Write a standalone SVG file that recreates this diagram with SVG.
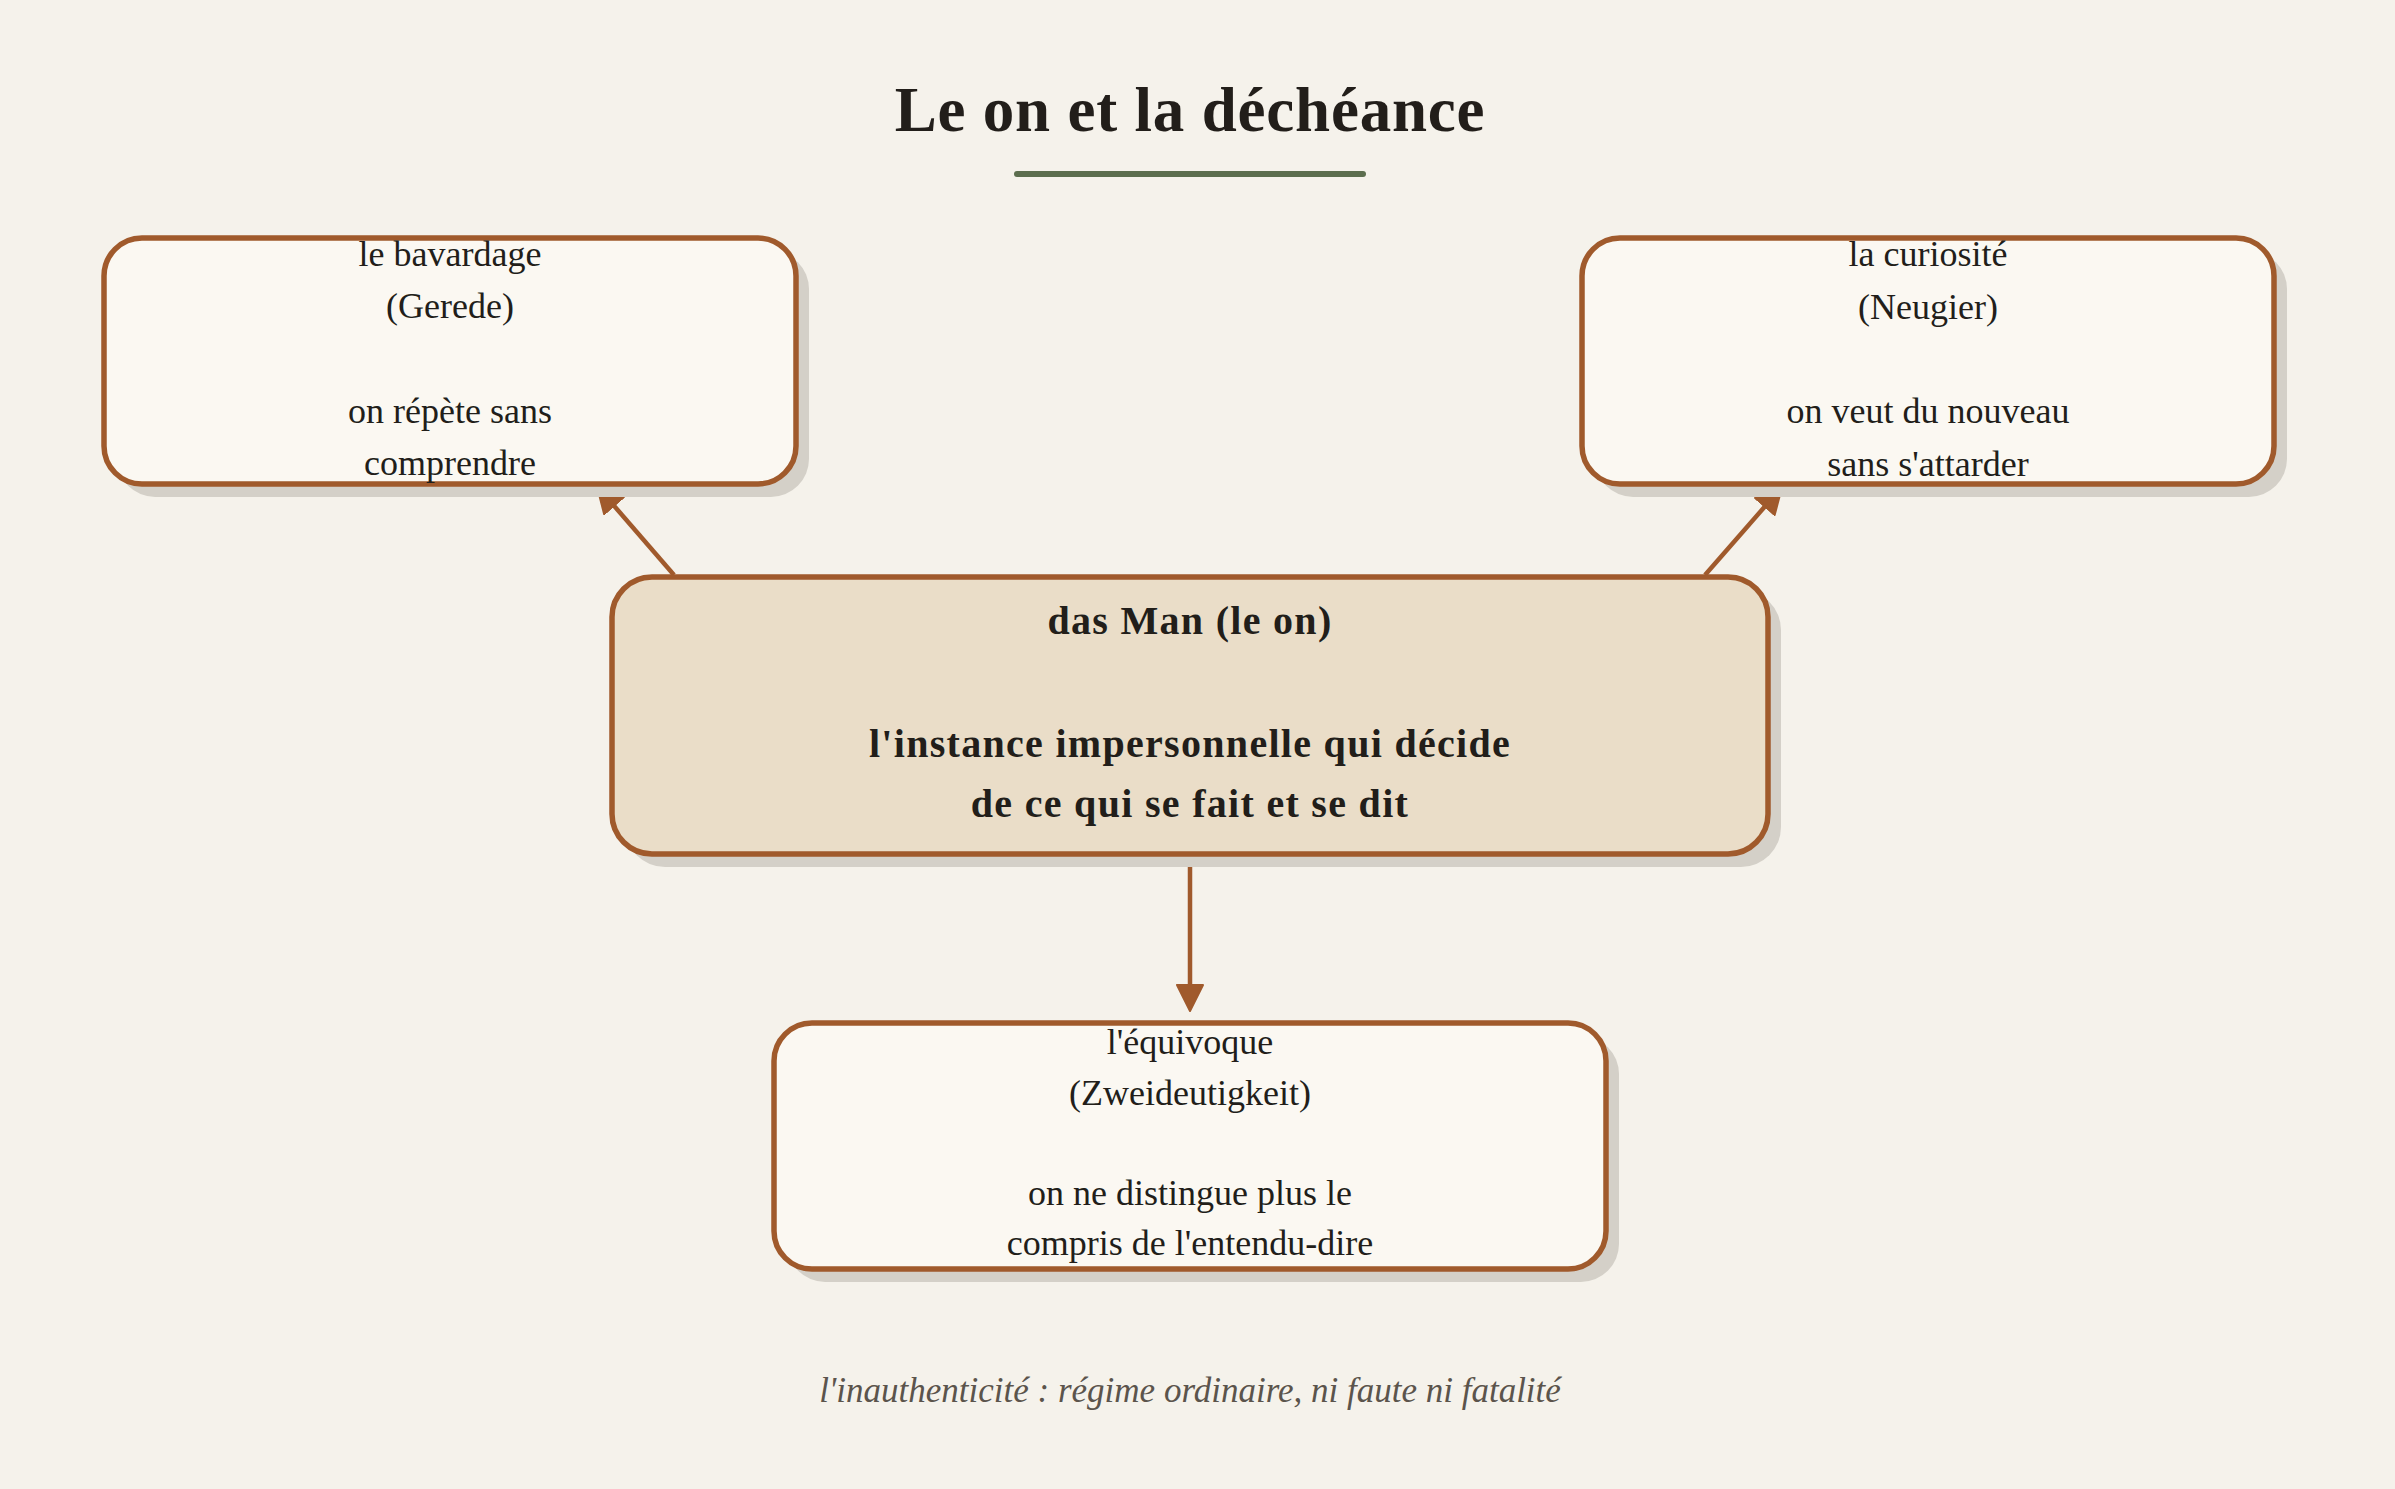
<svg xmlns="http://www.w3.org/2000/svg" width="2395" height="1489" viewBox="0 0 2395 1489">
  <style>
    .bg { fill: #f5f2eb; }
    .shadow { fill: #d4d0c8; }
    .box { fill: #fbf8f2; stroke: #a05a2c; stroke-width: 5.5; }
    .core { fill: #eaddc8; stroke: #a05a2c; stroke-width: 5.5; }
    .t { font-family: "Liberation Serif", "Times New Roman", serif; font-size: 36px; fill: #221e1a; text-anchor: middle; }
    .tb { font-family: "Liberation Serif", "Times New Roman", serif; font-size: 40px; font-weight: bold; letter-spacing: 1.3px; fill: #221e1a; text-anchor: middle; }
    .title { font-family: "Liberation Serif", "Times New Roman", serif; font-size: 63px; font-weight: bold; letter-spacing: 0.8px; fill: #221e1a; text-anchor: middle; }
    .foot { font-family: "Liberation Serif", "Times New Roman", serif; font-size: 35px; font-style: italic; fill: #5b544c; text-anchor: middle; }
    .edge { stroke: #a05a2c; stroke-width: 4.5; fill: none; marker-end: url(#arrow); }
  </style>
  <defs>
    <marker id="arrow" markerUnits="userSpaceOnUse" markerWidth="30" markerHeight="30" viewBox="0 0 30 30" refX="17" refY="14" orient="auto">
      <path d="M1,1 L27,14 L1,27 z" fill="#a05a2c" stroke="#a05a2c" stroke-width="2" stroke-linejoin="round"/>
    </marker>
  </defs>
  <rect class="bg" x="0" y="0" width="2395" height="1489"/>

  <g id="title">
    <text class="title" x="1190" y="131">Le on et la déchéance</text>
    <line x1="1017" y1="174" x2="1363" y2="174" stroke="#5c6e4e" stroke-width="6" stroke-linecap="round"/>
  </g>

  <g id="connectors">
    <line class="edge" x1="674" y1="575" x2="603.5" y2="493.6"/>
    <line class="edge" x1="1705" y1="575" x2="1775.4" y2="494.5"/>
    <line class="edge" x1="1190" y1="862" x2="1190" y2="1001"/>
  </g>

  <g id="node-bavardage">
    <rect class="shadow" x="117" y="251" width="692" height="246" rx="38"/>
    <rect class="box" x="104" y="238" width="692" height="246" rx="38"/>
    <text class="t" x="450" y="266">le bavardage</text>
    <text class="t" x="450" y="318">(Gerede)</text>
    <text class="t" x="450" y="423">on répète sans</text>
    <text class="t" x="450" y="475">comprendre</text>
  </g>

  <g id="node-curiosite">
    <rect class="shadow" x="1595" y="251" width="692" height="246" rx="38"/>
    <rect class="box" x="1582" y="238" width="692" height="246" rx="38"/>
    <text class="t" x="1928" y="266">la curiosité</text>
    <text class="t" x="1928" y="319">(Neugier)</text>
    <text class="t" x="1928" y="423">on veut du nouveau</text>
    <text class="t" x="1928" y="476">sans s'attarder</text>
  </g>

  <g id="node-das-man">
    <rect class="shadow" x="625" y="590" width="1156" height="277" rx="40"/>
    <rect class="core" x="612" y="577" width="1156" height="277" rx="40"/>
    <text class="tb" x="1190" y="634">das Man (le on)</text>
    <text class="tb" x="1190" y="757">l'instance impersonnelle qui décide</text>
    <text class="tb" x="1190" y="817">de ce qui se fait et se dit</text>
  </g>

  <g id="node-equivoque">
    <rect class="shadow" x="787" y="1036" width="832" height="246" rx="38"/>
    <rect class="box" x="774" y="1023" width="832" height="246" rx="38"/>
    <text class="t" x="1190" y="1054">l'équivoque</text>
    <text class="t" x="1190" y="1105">(Zweideutigkeit)</text>
    <text class="t" x="1190" y="1205">on ne distingue plus le</text>
    <text class="t" x="1190" y="1255">compris de l'entendu-dire</text>
  </g>

  <g id="footer">
    <text class="foot" x="1190" y="1402">l'inauthenticité : régime ordinaire, ni faute ni fatalité</text>
  </g>
</svg>
